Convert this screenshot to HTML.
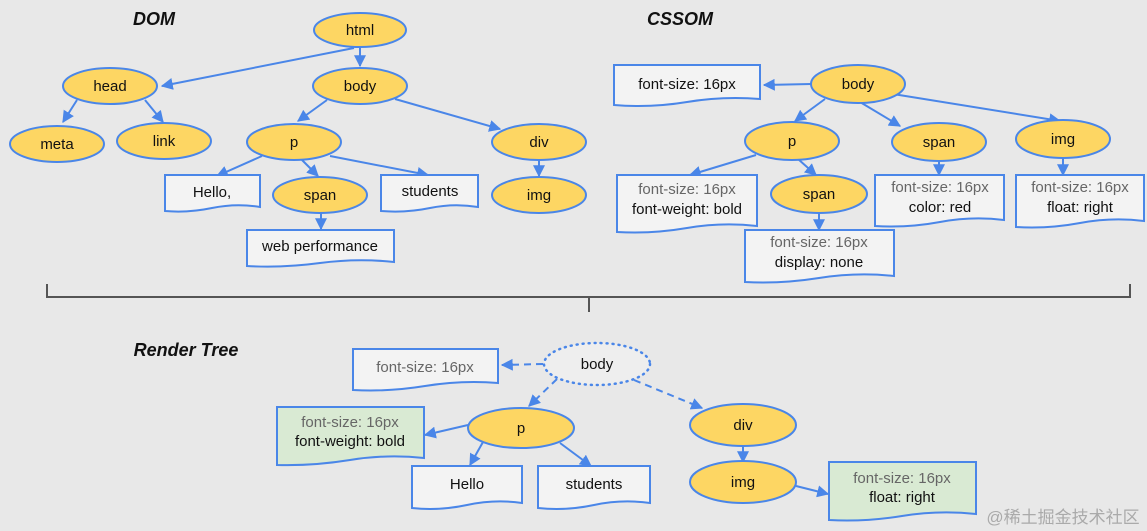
<!DOCTYPE html>
<html><head><meta charset="utf-8"><style>
html,body{margin:0;padding:0;background:#e8e8e8;}
svg{display:block;}
text{font-family:"Liberation Sans",Arial,sans-serif;font-size:15px;fill:#111;text-anchor:middle;}
.g{fill:#666;}
.e{fill:#fdd663;stroke:#4a86e8;stroke-width:2;}
.b{fill:#f3f3f3;stroke:#4a86e8;stroke-width:2;}
.gr{fill:#d9ead3;stroke:#4a86e8;stroke-width:2;}
.l{stroke:#4a86e8;stroke-width:2;fill:none;marker-end:url(#a);}
.d{stroke-dasharray:7,5;}
.t{font-weight:bold;font-style:italic;font-size:18px;}
</style></head><body>
<svg width="1147" height="531" viewBox="0 0 1147 531" xmlns="http://www.w3.org/2000/svg">
<defs><marker id="a" viewBox="0 0 10 10" refX="9" refY="5" markerWidth="6" markerHeight="6" orient="auto"><path d="M0,0 L10,5 L0,10 z" fill="#4a86e8"/></marker></defs>
<rect width="1147" height="531" fill="#e8e8e8"/>

<text x="154" y="25" class="t">DOM</text>
<text x="680" y="25" class="t">CSSOM</text>
<text x="186" y="356" class="t">Render Tree</text>

<line class="l" x1="354" y1="48" x2="162" y2="86"/>
<line class="l" x1="360" y1="48" x2="360" y2="66"/>
<line class="l" x1="77" y1="100" x2="63" y2="122"/>
<line class="l" x1="145" y1="100" x2="163" y2="122"/>
<line class="l" x1="327" y1="100" x2="298" y2="121"/>
<line class="l" x1="395" y1="99" x2="500" y2="129"/>
<line class="l" x1="262" y1="156" x2="217" y2="176"/>
<line class="l" x1="302" y1="160" x2="318" y2="176"/>
<line class="l" x1="330" y1="156" x2="428" y2="175"/>
<line class="l" x1="539" y1="160" x2="539" y2="176"/>
<line class="l" x1="321" y1="213" x2="321" y2="229"/>

<ellipse class="e" cx="360" cy="30" rx="46" ry="17"/><text x="360" y="35">html</text>
<ellipse class="e" cx="110" cy="86" rx="47" ry="18"/><text x="110" y="91">head</text>
<ellipse class="e" cx="360" cy="86" rx="47" ry="18"/><text x="360" y="91">body</text>
<ellipse class="e" cx="57" cy="144" rx="47" ry="18"/><text x="57" y="149">meta</text>
<ellipse class="e" cx="164" cy="141" rx="47" ry="18"/><text x="164" y="146">link</text>
<ellipse class="e" cx="294" cy="142" rx="47" ry="18"/><text x="294" y="147">p</text>
<ellipse class="e" cx="539" cy="142" rx="47" ry="18"/><text x="539" y="147">div</text>
<ellipse class="e" cx="320" cy="195" rx="47" ry="18"/><text x="320" y="200">span</text>
<ellipse class="e" cx="539" cy="195" rx="47" ry="18"/><text x="539" y="200">img</text>
<path class="b" d="M165,175 H260 V207 Q236,203 212,208 T165,211 Z"/><text x="212" y="197">Hello,</text>
<path class="b" d="M381,175 H478 V207 Q454,203 430,208 T381,211 Z"/><text x="430" y="196">students</text>
<path class="b" d="M247,230 H394 V262 Q357,258 320,263 T247,266 Z"/><text x="320" y="251">web performance</text>

<line class="l" x1="811" y1="84" x2="764" y2="85"/>
<line class="l" x1="825" y1="99" x2="795" y2="121"/>
<line class="l" x1="860" y1="102" x2="900" y2="126"/>
<line class="l" x1="893" y1="94" x2="1060" y2="121"/>
<line class="l" x1="756" y1="155" x2="690" y2="175"/>
<line class="l" x1="798" y1="159" x2="816" y2="175"/>
<line class="l" x1="939" y1="160" x2="939" y2="175"/>
<line class="l" x1="1063" y1="157" x2="1063" y2="175"/>
<line class="l" x1="819" y1="212" x2="819" y2="230"/>

<path class="b" d="M614,65 H760 V99 Q723,96 687,102 T614,105 Z"/><text x="687" y="89">font-size: 16px</text>
<ellipse class="e" cx="858" cy="84" rx="47" ry="19"/><text x="858" y="89">body</text>
<ellipse class="e" cx="792" cy="141" rx="47" ry="19"/><text x="792" y="146">p</text>
<ellipse class="e" cx="939" cy="142" rx="47" ry="19"/><text x="939" y="147">span</text>
<ellipse class="e" cx="1063" cy="139" rx="47" ry="19"/><text x="1063" y="144">img</text>
<path class="b" d="M617,175 H757 V226 Q722,222 687,228 T617,232 Z"/><text x="687" y="194" class="g">font-size: 16px</text><text x="687" y="214">font-weight: bold</text>
<path class="b" d="M875,175 H1004 V220 Q972,216 940,222 T875,226 Z"/><text x="940" y="192" class="g">font-size: 16px</text><text x="940" y="212">color: red</text>
<path class="b" d="M1016,175 H1144 V221 Q1112,217 1080,223 T1016,227 Z"/><text x="1080" y="192" class="g">font-size: 16px</text><text x="1080" y="212">float: right</text>
<ellipse class="e" cx="819" cy="194" rx="48" ry="19"/><text x="819" y="199">span</text>
<path class="b" d="M745,230 H894 V276 Q857,272 819,278 T745,282 Z"/><text x="819" y="247" class="g">font-size: 16px</text><text x="819" y="267">display: none</text>

<path d="M47,284 V297 H589 V312 M589,297 H1130 V284" stroke="#555" stroke-width="2" fill="none"/>

<line class="l d" x1="543" y1="364" x2="502" y2="365"/>
<line class="l d" x1="557" y1="379" x2="529" y2="406"/>
<line class="l d" x1="634" y1="380" x2="702" y2="408"/>
<line class="l" x1="468" y1="425" x2="425" y2="435"/>
<line class="l" x1="483" y1="442" x2="470" y2="465"/>
<line class="l" x1="560" y1="443" x2="591" y2="466"/>
<line class="l" x1="743" y1="446" x2="743" y2="462"/>
<line class="l" x1="796" y1="486" x2="828" y2="494"/>

<path class="b" d="M353,349 H498 V383 Q462,380 425,386 T353,390 Z"/><text x="425" y="372" class="g">font-size: 16px</text>
<ellipse cx="597" cy="364" rx="53" ry="21" fill="#eeeeee" stroke="#4a86e8" stroke-width="2.5" stroke-dasharray="1,5" stroke-linecap="round"/><text x="597" y="369">body</text>
<path class="gr" d="M277,407 H424 V458 Q387,454 350,460 T277,465 Z"/><text x="350" y="427" class="g">font-size: 16px</text><text x="350" y="446">font-weight: bold</text>
<ellipse class="e" cx="521" cy="428" rx="53" ry="20"/><text x="521" y="433">p</text>
<ellipse class="e" cx="743" cy="425" rx="53" ry="21"/><text x="743" y="430">div</text>
<ellipse class="e" cx="743" cy="482" rx="53" ry="21"/><text x="743" y="487">img</text>
<path class="b" d="M412,466 H522 V503 Q495,499 467,505 T412,508 Z"/><text x="467" y="489">Hello</text>
<path class="b" d="M538,466 H650 V503 Q622,499 594,505 T538,508 Z"/><text x="594" y="489">students</text>
<path class="gr" d="M829,462 H976 V514 Q939,510 902,516 T829,520 Z"/><text x="902" y="483" class="g">font-size: 16px</text><text x="902" y="502">float: right</text>

<text x="1063" y="523" style="font-family:'Liberation Sans','Noto Sans CJK SC',sans-serif;font-size:17px;fill:#aaa;">@稀土掘金技术社区</text>
</svg>
</body></html>
